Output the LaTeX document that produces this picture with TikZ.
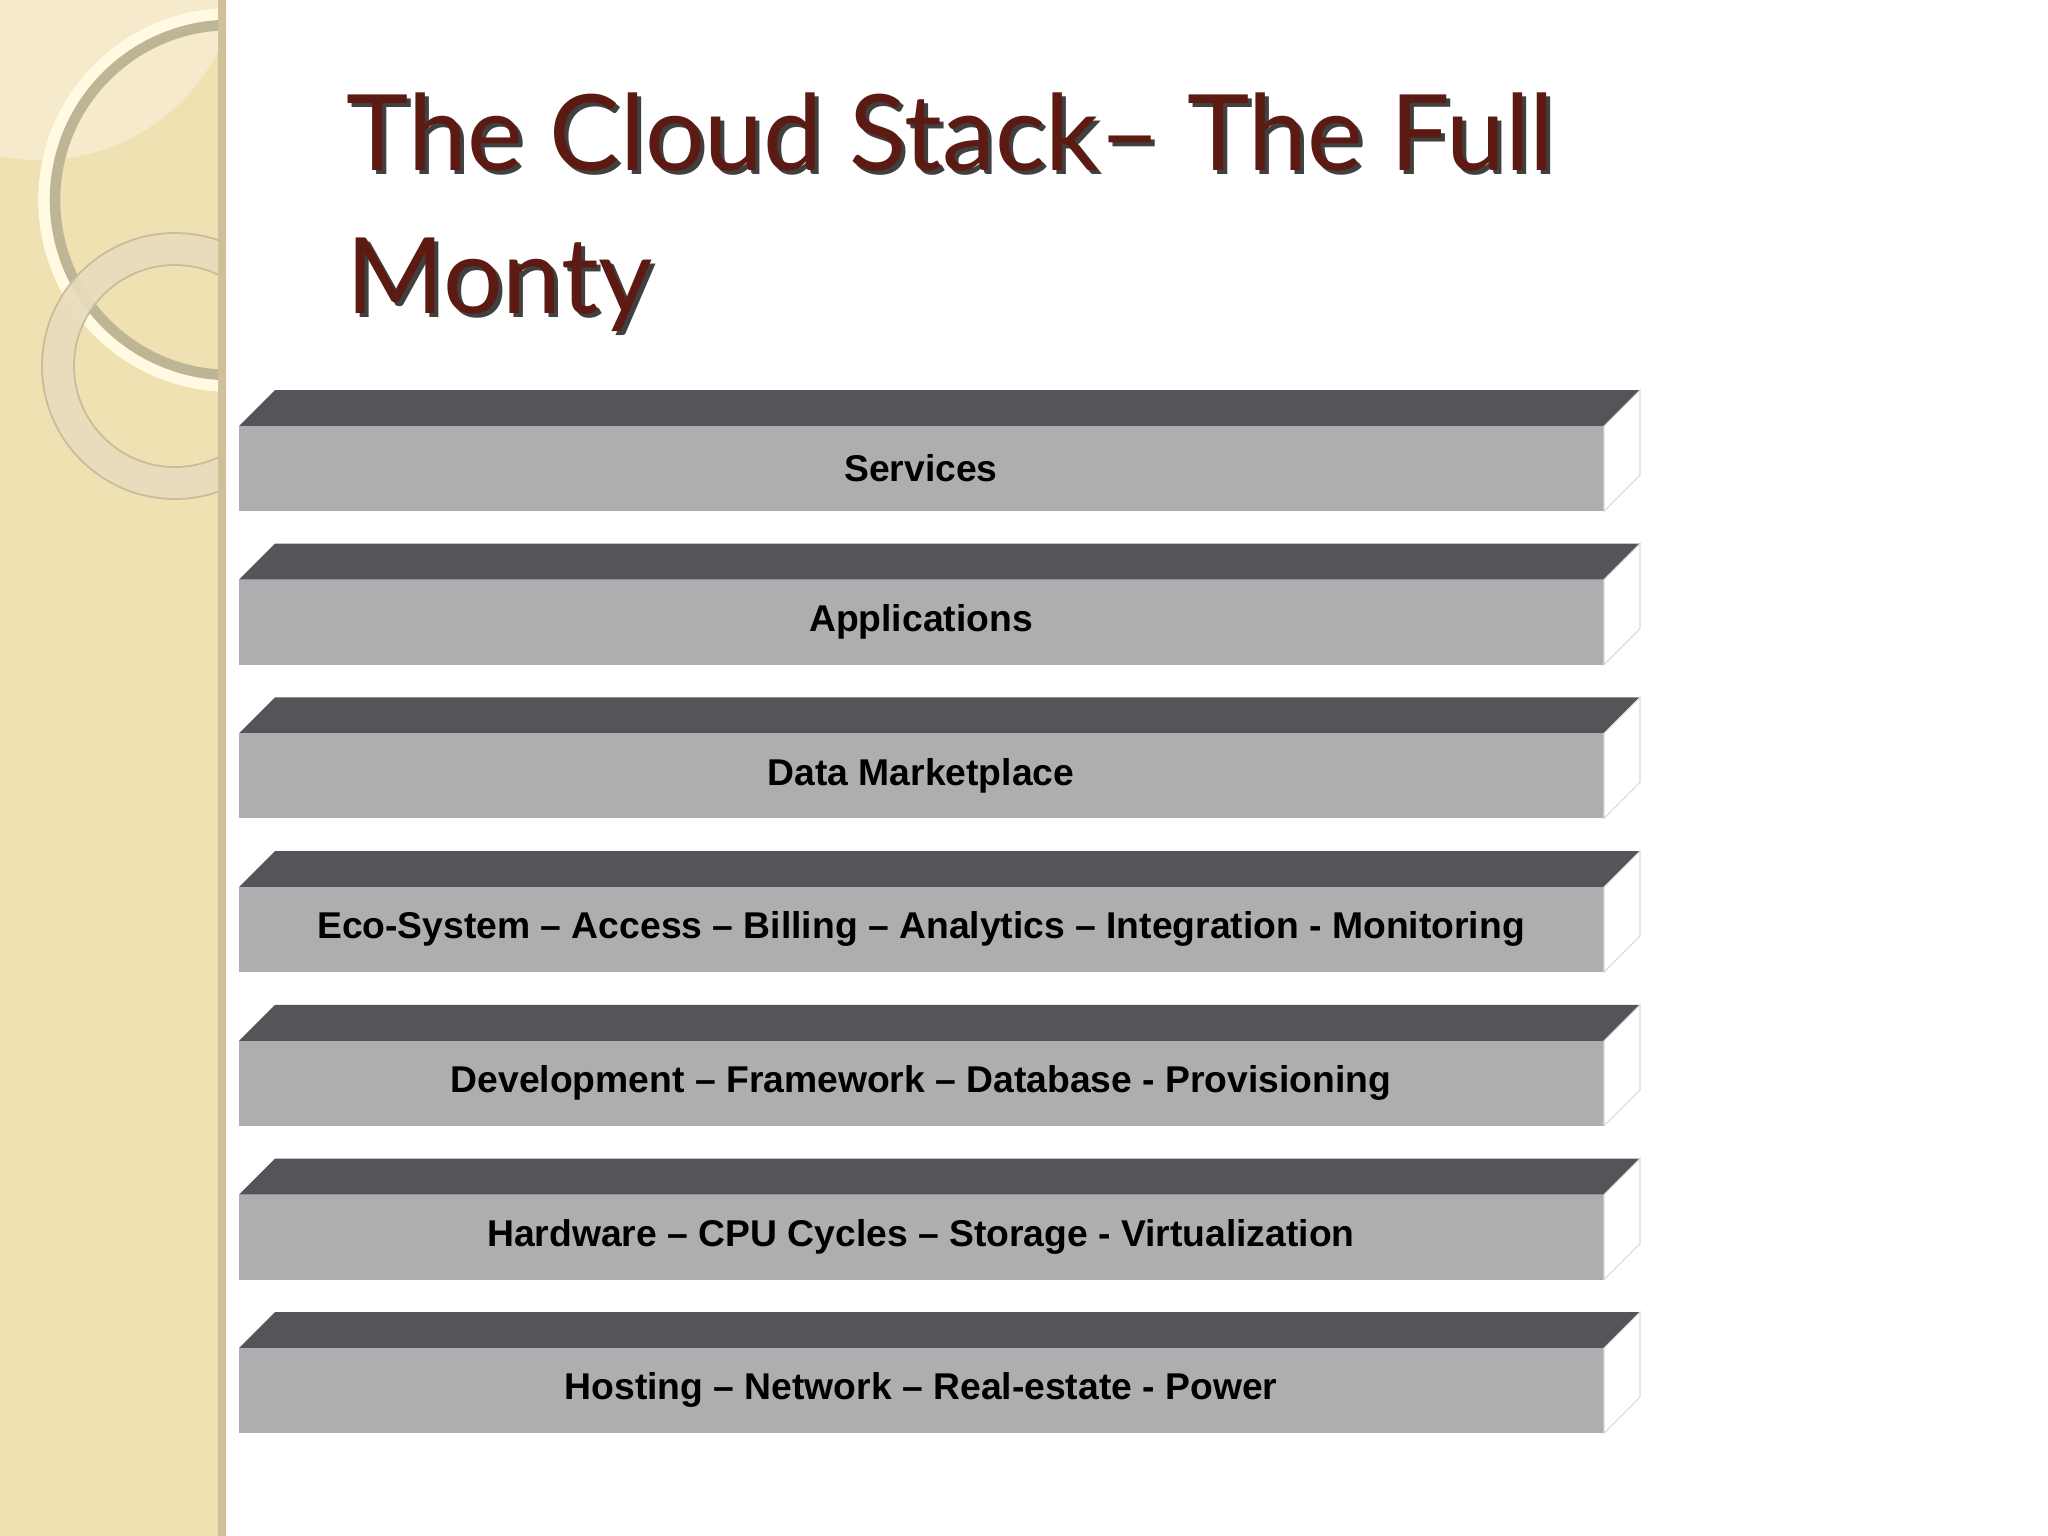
\documentclass[tikz,border=0pt]{standalone}
\usepackage{fontspec}
\setmainfont{Liberation Sans}
\newfontfamily\titlefont{Lato}
\begin{document}
\begin{tikzpicture}[x=0.01cm,y=-0.01cm,
  topface/.style={fill=black!67!red!3!gray!60!black, draw=none},
  frontface/.style={fill=black!32},
  sideface/.style={fill=white, draw=black!15, line width=0.3pt},
  lbl/.style={font=\fontsize{10.6}{12}\selectfont\bfseries, text=black}]
\useasboundingbox (0,0) rectangle (2048,1536);
\fill[white] (0,0) rectangle (2048,1536);
% left strip
\begin{scope}
\clip (0,0) rectangle (226,1536);
\fill[color={rgb,255:red,240;green,225;blue,178}] (0,0) rectangle (226,1536);
\fill[white,opacity=0.35] (40,-40) circle (200);
\draw[color={rgb,255:red,255;green,250;blue,225},line width=5pt] (230,200) circle (183);
\draw[color={rgb,255:red,190;green,180;blue,150},line width=3pt] (230,200) circle (175);
\draw[color={rgb,255:red,232;green,220;blue,190},line width=9pt,opacity=0.9] (175,366) circle (117);
\draw[color={rgb,255:red,200;green,188;blue,155},line width=0.5pt] (175,366) circle (133);
\draw[color={rgb,255:red,200;green,188;blue,155},line width=0.5pt] (175,366) circle (101);
\fill[color={rgb,255:red,205;green,192;blue,155}] (218,0) rectangle (226,1536);
\end{scope}
% title
\foreach \dx/\col in {4/black!75, 0/{rgb,255:red,92;green,26;blue,18}}{
  \node[anchor=base west, inner sep=0, text=\col, font=\titlefont\fontsize{30}{36}\selectfont]
    (t\dx a) at (346+\dx,170+\dx) {The Cloud Stack– The Full};
  \node[anchor=base west, inner sep=0, text=\col, font=\titlefont\fontsize{30}{36}\selectfont]
    (t\dx b) at (346+\dx,313+\dx) {Monty};
}
% bars
\foreach \i/\t in {0/Services,1/Applications,2/Data Marketplace,
  3/{Eco-System – Access – Billing – Analytics – Integration - Monitoring},
  4/{Development – Framework – Database - Provisioning},
  5/{Hardware – CPU Cycles – Storage - Virtualization},
  6/{Hosting – Network – Real-estate - Power}}{
  \pgfmathsetmacro{\y}{390+\i*153.7}
  \fill[color={rgb,255:red,86;green,84;blue,88}] (239,\y+36) -- (275,\y) -- (1640,\y) -- (1604,\y+36) -- cycle;
  \fill[color={rgb,255:red,174;green,173;blue,176}] (239,\y+36) rectangle (1604,\y+121);
  \draw[sideface] (1604,\y+36) -- (1640,\y) -- (1640,\y+85) -- (1604,\y+121) -- cycle;
  \node[lbl] (b\i) at (921,\y+78) {\t};
}
\end{tikzpicture}
\end{document}
